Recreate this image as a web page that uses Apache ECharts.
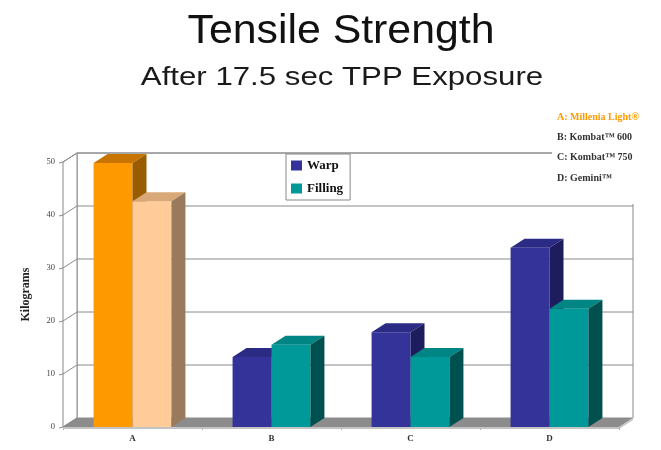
<!DOCTYPE html>
<html>
<head>
<meta charset="utf-8">
<script src="https://cdn.jsdelivr.net/npm/echarts@6/dist/echarts.min.js"></script>
<style>
  html, body { margin: 0; padding: 0; background: #fff; }
  #chart { width: 661px; height: 450px; }
</style>
</head>
<body>
<div id="chart"></div>
<script>
// Fabric samples and their tensile strength (kilograms)
const categories = ['A', 'B', 'C', 'D'];
const warp = [49.8, 13.2, 17.9, 33.8];
const filling = [42.6, 15.5, 13.2, 22.3];
const yTicks = [0, 10, 20, 30, 40, 50];
const fabricNotes = ['A: Millenia Light®', 'B: Kombat™ 600', 'C: Kombat™ 750', 'D: Gemini™'];

// 3D depth offset of the box (pixels)
const DX = 14, DY = -9;

const warpStyle = {
  normal: { front: '#333399', top: '#2b2b86', side: '#1d1d5e' },
  first:  { front: '#FF9900', top: '#C87500', side: '#9A5C00' }
};
const fillStyle = {
  normal: { front: '#009999', top: '#008585', side: '#005050' },
  first:  { front: '#FFCC99', top: '#D8A878', side: '#9A7A5C' }
};

function barRenderer(leftSide, styles) {
  return function (params, api) {
    const ci = api.value(0);
    const v = api.value(1);
    const p0 = api.coord([ci, 0]);
    const p1 = api.coord([ci, v]);
    const cw = api.size([1, 0])[0];
    const bw = cw * 0.28;
    const x0 = leftSide ? p0[0] - bw : p0[0];
    const x1 = x0 + bw;
    const yb = p0[1], yt = p1[1];
    const c = ci === 0 ? styles.first : styles.normal;
    return {
      type: 'group',
      children: [
        { type: 'rect', shape: { x: x0, y: yt, width: bw, height: yb - yt },
          style: { fill: c.front } },
        { type: 'polygon', shape: { points: [[x0, yt], [x1, yt], [x1 + DX, yt + DY], [x0 + DX, yt + DY]] },
          style: { fill: c.top } },
        { type: 'polygon', shape: { points: [[x1, yt], [x1 + DX, yt + DY], [x1 + DX, yb + DY], [x1, yb]] },
          style: { fill: c.side } }
      ]
    };
  };
}

// Walls and floor of the 3D box
function wallRenderer(params, api) {
  const cs = params.coordSys;
  const L = cs.x, R = cs.x + cs.width, T = cs.y, B = cs.y + cs.height;
  const edge = { stroke: '#8a8a8a', lineWidth: 1 };
  return {
    type: 'group',
    children: [
      { type: 'rect', shape: { x: L + DX, y: T + DY, width: R - L, height: B - T },
        style: Object.assign({ fill: '#fff' }, edge) },
      { type: 'polygon', shape: { points: [[L, T], [L + DX, T + DY], [L + DX, B + DY], [L, B]] },
        style: Object.assign({ fill: '#fff' }, edge) },
      { type: 'polygon', shape: { points: [[L, B], [L + DX, B + DY], [R + DX, B + DY], [R, B]] },
        style: { fill: '#8c8c8c' } },
      { type: 'polygon', shape: { points: [[L, B], [R, B], [R + DX, B + DY], [R + DX, B + DY + 2], [R, B + 2], [L, B + 2]] },
        style: { fill: '#c4c4c4' } }
    ]
  };
}

// Value gridlines across the left and back walls
function gridRenderer(params, api) {
  const cs = params.coordSys;
  const L = cs.x, R = cs.x + cs.width;
  const y = api.coord([0, api.value(1)])[1];
  const line = { stroke: '#8a8a8a', lineWidth: 1 };
  const children = [
    { type: 'line', shape: { x1: L - 4, y1: y + 1, x2: L, y2: y }, style: line },
    { type: 'line', shape: { x1: L, y1: y, x2: L + DX, y2: y + DY }, style: line }
  ];
  if (api.value(1) > 0) {
    children.push({ type: 'line', shape: { x1: L + DX, y1: y + DY, x2: R + DX, y2: y + DY }, style: line });
  }
  return { type: 'group', children: children };
}

const chart = echarts.init(document.getElementById('chart'), null, { renderer: 'canvas' });

const serif = '"Liberation Serif", "DejaVu Serif", serif';
const sans = '"Liberation Sans", Arial, sans-serif';
const noteFont = 'bold 10px ' + serif;

chart.setOption({
  animation: false,
  backgroundColor: '#fff',
  grid: { left: 63, right: 42, top: 162, bottom: 23 },
  legend: {
    data: ['Warp', 'Filling'],
    orient: 'vertical',
    left: 286,
    top: 154,
    icon: 'rect',
    itemWidth: 11,
    itemHeight: 10,
    itemGap: 10,
    padding: [5, 7, 5, 5],
    borderColor: '#888',
    borderWidth: 1,
    backgroundColor: '#fff',
    textStyle: { fontFamily: serif, fontWeight: 'bold', fontSize: 13, color: '#111' }
  },
  xAxis: {
    type: 'category',
    data: categories,
    axisLine: { show: false },
    axisTick: { show: true, length: 3, lineStyle: { color: '#aaa' } },
    axisLabel: { fontFamily: serif, fontWeight: 'bold', fontSize: 9, color: '#333', margin: 7 }
  },
  yAxis: {
    type: 'value',
    min: 0,
    max: 50,
    interval: 10,
    name: 'Kilograms',
    nameLocation: 'middle',
    nameRotate: 90,
    nameGap: 31,
    nameTextStyle: { fontFamily: serif, fontWeight: 'bold', fontSize: 12, color: '#222' },
    axisLine: { show: true, lineStyle: { color: '#8a8a8a' } },
    axisTick: { show: false },
    splitLine: { show: false },
    axisLabel: { fontFamily: serif, fontSize: 8.5, color: '#444', margin: 8 }
  },
  graphic: [
    { type: 'text', x: 341, y: 31.5, scaleX: 1.07, z: 100,
      style: { text: 'Tensile Strength', font: '40px ' + sans, fill: '#111',
               textAlign: 'center', verticalAlign: 'middle' } },
    { type: 'text', x: 342, y: 78, scaleX: 1.2, z: 100,
      style: { text: 'After 17.5 sec TPP Exposure', font: '26px ' + sans, fill: '#1a1a1a',
               textAlign: 'center', verticalAlign: 'middle' } },
    { type: 'rect', left: 552, top: 104, z: 100,
      shape: { x: 0, y: 0, width: 109, height: 100 }, style: { fill: '#fff' } },
    { type: 'text', left: 557, top: 112, z: 101, style: { text: fabricNotes[0], font: noteFont, fill: '#FF9900' } },
    { type: 'text', left: 557, top: 132, z: 101, style: { text: fabricNotes[1], font: noteFont, fill: '#333' } },
    { type: 'text', left: 557, top: 152, z: 101, style: { text: fabricNotes[2], font: noteFont, fill: '#333' } },
    { type: 'text', left: 557, top: 173, z: 101, style: { text: fabricNotes[3], font: noteFont, fill: '#333' } }
  ],
  series: [
    { type: 'custom', name: 'walls', renderItem: wallRenderer, data: [[0, 0]], clip: false, z: 1, silent: true },
    { type: 'custom', name: 'gridlines', renderItem: gridRenderer,
      data: yTicks.map(v => [0, v]), clip: false, z: 2, silent: true },
    { type: 'custom', name: 'Warp', renderItem: barRenderer(true, warpStyle),
      itemStyle: { color: '#333399' },
      data: warp.map((v, i) => [i, v]), encode: { x: 0, y: 1 }, clip: false, z: 3 },
    { type: 'custom', name: 'Filling', renderItem: barRenderer(false, fillStyle),
      itemStyle: { color: '#009999' },
      data: filling.map((v, i) => [i, v]), encode: { x: 0, y: 1 }, clip: false, z: 4 }
  ]
});
</script>
</body>
</html>
